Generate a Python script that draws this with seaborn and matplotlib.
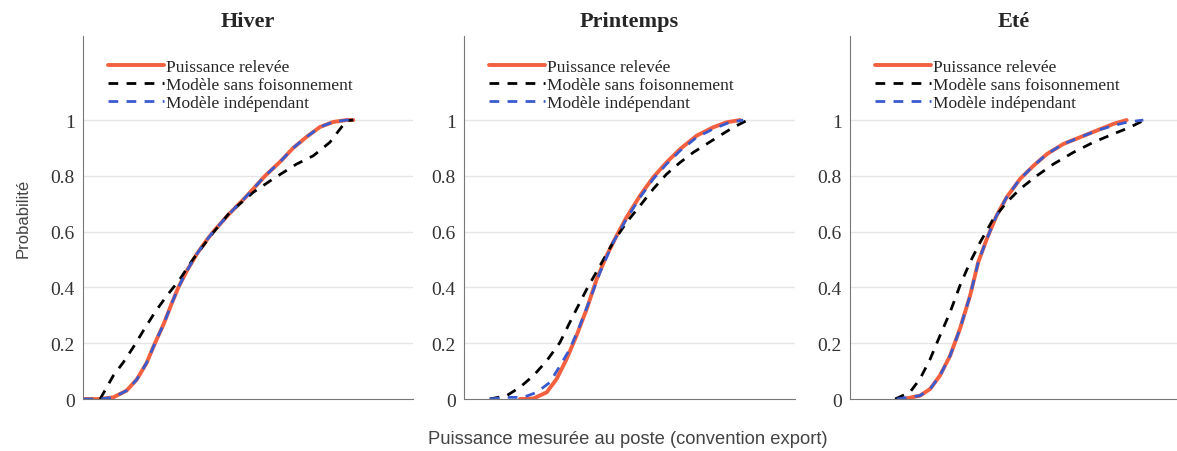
import numpy as np
import pandas as pd
import matplotlib
matplotlib.use('Agg')
import matplotlib.pyplot as plt
import seaborn as sns

seasons = ['Hiver', 'Printemps', 'Eté']
labels = ['Puissance relevée', 'Modèle sans foisonnement', 'Modèle indépendant']

# Hiver
hiv_red_x = [0.001, 0.052, 0.092, 0.132, 0.163, 0.193, 0.218, 0.245, 0.268, 0.289, 0.315, 0.345, 0.375,
             0.395, 0.440, 0.490, 0.552, 0.597, 0.637, 0.678, 0.718, 0.758, 0.799, 0.819]
hiv_red_y = [0, 0, 0.006, 0.03, 0.07, 0.13, 0.20, 0.27, 0.34, 0.40, 0.46, 0.52, 0.57,
             0.60, 0.66, 0.72, 0.80, 0.85, 0.90, 0.94, 0.975, 0.993, 1.0, 1.0]
hiv_blk_x = [0.052, 0.092, 0.122, 0.152, 0.183, 0.218, 0.254, 0.294, 0.334, 0.395, 0.445, 0.516,
             0.576, 0.647, 0.698, 0.748, 0.779, 0.799, 0.819]
hiv_blk_y = [0, 0.084, 0.131, 0.185, 0.245, 0.311, 0.370, 0.430, 0.502, 0.597, 0.669, 0.741,
             0.789, 0.842, 0.872, 0.920, 0.968, 0.998, 1.0]
hiv_blu_x = [0.001, 0.052, 0.092, 0.132, 0.163, 0.193, 0.218, 0.245, 0.268, 0.289, 0.315, 0.345, 0.375,
             0.395, 0.440, 0.490, 0.552, 0.597, 0.637, 0.678, 0.718, 0.758, 0.799, 0.819]
hiv_blu_y = [0, 0, 0.006, 0.03, 0.07, 0.13, 0.20, 0.27, 0.34, 0.40, 0.46, 0.52, 0.57,
             0.60, 0.66, 0.72, 0.80, 0.85, 0.90, 0.94, 0.975, 0.993, 1.0, 1.0]

# Printemps
pri_red_x = [0.169, 0.210, 0.250, 0.280, 0.310, 0.340, 0.371, 0.401, 0.431, 0.461, 0.491, 0.532,
             0.572, 0.612, 0.653, 0.703, 0.753, 0.794, 0.834]
pri_red_y = [0, 0.002, 0.024, 0.072, 0.143, 0.227, 0.323, 0.430, 0.514, 0.585, 0.651, 0.729,
             0.795, 0.848, 0.896, 0.944, 0.974, 0.992, 1.0]
pri_blk_x = [0.078, 0.129, 0.169, 0.210, 0.250, 0.290, 0.330, 0.371, 0.411, 0.451, 0.491, 0.532,
             0.572, 0.612, 0.653, 0.693, 0.733, 0.773, 0.814, 0.854, 0.874]
pri_blk_y = [0, 0.012, 0.042, 0.084, 0.137, 0.203, 0.299, 0.394, 0.478, 0.562, 0.633, 0.693,
             0.753, 0.806, 0.848, 0.884, 0.914, 0.944, 0.974, 0.998, 0.998]
pri_blu_x = [0.078, 0.129, 0.179, 0.220, 0.260, 0.290, 0.320, 0.350, 0.381, 0.411, 0.451, 0.491,
             0.532, 0.572, 0.612, 0.653, 0.703, 0.753, 0.803, 0.844]
pri_blu_y = [0, 0.006, 0.006, 0.024, 0.060, 0.119, 0.179, 0.263, 0.358, 0.454, 0.562, 0.645,
             0.723, 0.789, 0.842, 0.890, 0.938, 0.968, 0.992, 1.0]

# Eté
ete_red_x = [0.163, 0.214, 0.245, 0.275, 0.306, 0.336, 0.367, 0.392, 0.418, 0.448, 0.479, 0.520,
             0.561, 0.602, 0.652, 0.703, 0.754, 0.805, 0.846]
ete_red_y = [0, 0.012, 0.036, 0.084, 0.155, 0.251, 0.370, 0.490, 0.573, 0.657, 0.723, 0.789,
             0.836, 0.878, 0.914, 0.938, 0.962, 0.986, 1.0]
ete_blk_x = [0.138, 0.183, 0.214, 0.245, 0.275, 0.306, 0.336, 0.367, 0.398, 0.438, 0.479, 0.520,
             0.571, 0.622, 0.683, 0.744, 0.805, 0.856, 0.897]
ete_blk_y = [0, 0.024, 0.072, 0.143, 0.227, 0.311, 0.406, 0.490, 0.562, 0.645, 0.705, 0.753,
             0.800, 0.842, 0.884, 0.920, 0.950, 0.974, 0.998]
ete_blu_x = [0.143, 0.214, 0.245, 0.275, 0.306, 0.336, 0.367, 0.392, 0.418, 0.448, 0.479, 0.520,
             0.561, 0.602, 0.652, 0.703, 0.754, 0.805, 0.846, 0.897]
ete_blu_y = [0, 0.012, 0.036, 0.084, 0.155, 0.251, 0.370, 0.490, 0.573, 0.657, 0.723, 0.789,
             0.836, 0.878, 0.914, 0.938, 0.962, 0.980, 0.992, 1.0]

curves = {
    'Hiver': [(hiv_red_x, hiv_red_y), (hiv_blk_x, hiv_blk_y), (hiv_blu_x, hiv_blu_y)],
    'Printemps': [(pri_red_x, pri_red_y), (pri_blk_x, pri_blk_y), (pri_blu_x, pri_blu_y)],
    'Eté': [(ete_red_x, ete_red_y), (ete_blk_x, ete_blk_y), (ete_blu_x, ete_blu_y)],
}

sns.set_style('white')
plt.rcParams['font.family'] = ['Liberation Serif', 'DejaVu Serif']

fig = plt.figure(figsize=(11.77, 4.52), dpi=100)
lefts = [0.0705, 0.3942, 0.7222]
widths = [0.2804, 0.2812, 0.2778]

colors = ['#f2603f', 'black', '#3a5bd0']
styles = [dict(lw=2.8), dict(lw=2.0, dashes=(3.5, 3.0)), dict(lw=2.0, dashes=(3.5, 3.0))]

for i, season in enumerate(seasons):
    ax = fig.add_axes([lefts[i], 0.115, widths[i], 0.803])
    for j, (xs, ys) in enumerate(curves[season]):
        df = pd.DataFrame({'x': xs, 'y': ys})
        sns.lineplot(data=df, x='x', y='y', ax=ax, color=colors[j], label=labels[j],
                     sort=False, solid_joinstyle='round', dash_joinstyle='round', **styles[j])
    ax.set_xlim(0, 1)
    ax.set_ylim(0, 1.301)
    ax.set_yticks([0, 0.2, 0.4, 0.6, 0.8, 1])
    ax.set_yticklabels(['0', '0.2', '0.4', '0.6', '0.8', '1'])
    ax.set_xticks([])
    ax.set_xlabel('')
    ax.set_ylabel('')
    for y in [0.2, 0.4, 0.6, 0.8, 1]:
        ax.axhline(y, color='#e6e6e6', lw=1, zorder=0)
    ax.spines['top'].set_visible(False)
    ax.spines['right'].set_visible(False)
    ax.spines['left'].set_color('#777777')
    ax.spines['bottom'].set_color('#777777')
    ax.tick_params(axis='y', labelsize=14, labelcolor='#333333', colors='#777777',
                   length=3, direction='in', pad=6)
    ax.set_title(season, fontsize=16, fontweight='bold', pad=7)
    ax.legend(loc='upper left', bbox_to_anchor=(0.04, 0.97), frameon=False, fontsize=12.5,
              handlelength=3.2, handletextpad=0.1, labelspacing=0.1, borderaxespad=0.3)
    if i == 0:
        ax.set_ylabel('Probabilité', fontsize=12, family='Liberation Sans', color='#444444', labelpad=14)

fig.text(0.5336, 0.027, 'Puissance mesurée au poste (convention export)', ha='center', va='center',
         fontsize=13.2, family='Liberation Sans', color='#444444')

fig.savefig('out.png', dpi=100)
